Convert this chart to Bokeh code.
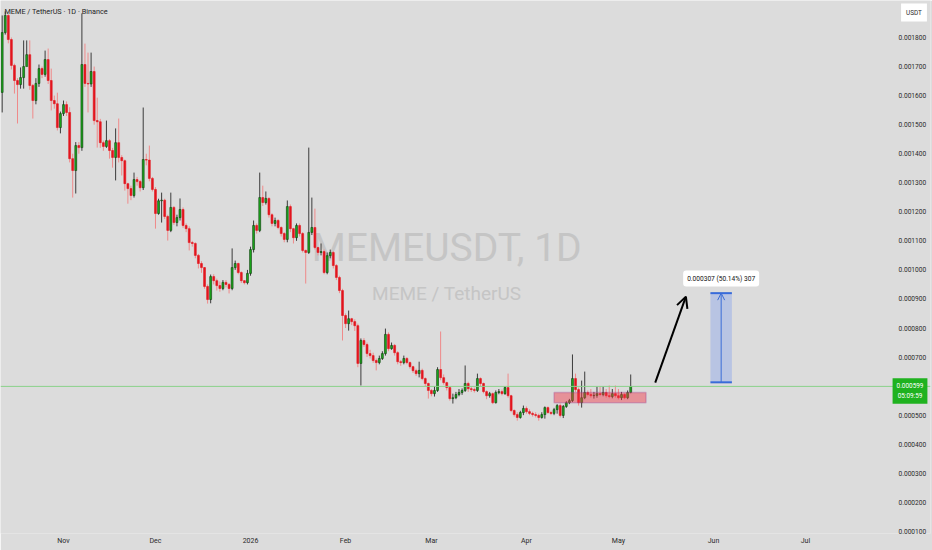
import pandas as pd
from bokeh.embed import file_html
from bokeh.models import (Arrow, BoxAnnotation, ColumnDataSource, CustomJSTickFormatter,
                          FixedTicker, Label, OpenHead, PrintfTickFormatter, Range1d, Span)
from bokeh.plotting import figure
from bokeh.resources import INLINE

# ---------------- data (prices in millionths of USDT) ----------------
first_day = "2025-10-12"
closes = [1817, 1876, 1793, 1704, 1652, 1638, 1662, 1700, 1741, 1635,
          1583, 1642, 1693, 1673, 1724, 1652, 1583, 1572, 1490, 1538,
          1569, 1542, 1383, 1342, 1428, 1421, 1707, 1642, 1640, 1683,
          1514, 1510, 1438, 1425, 1445, 1411, 1387, 1438, 1387, 1376,
          1297, 1280, 1256, 1311, 1304, 1283, 1380, 1378, 1315, 1277,
          1194, 1238, 1240, 1184, 1136, 1215, 1163, 1180, 1208, 1153,
          1142, 1094, 1091, 1050, 1022, 1008, 943, 898, 977, 963,
          946, 936, 957, 950, 936, 1008, 1022, 991, 963, 956,
          988, 1070, 1153, 1136, 1249, 1232, 1246, 1190, 1160, 1170,
          1146, 1125, 1105, 1218, 1142, 1111, 1153, 1125, 1067, 1060,
          1129, 1146, 1077, 1060, 1063, 991, 1049, 1060, 1015, 974,
          929, 843, 815, 832, 822, 808, 678, 757, 743, 712,
          705, 688, 681, 695, 712, 778, 729, 740, 715, 684,
          681, 695, 681, 667, 653, 643, 654, 626, 609, 585,
          574, 585, 657, 629, 612, 595, 557, 560, 571, 578,
          585, 609, 591, 588, 585, 626, 609, 581, 567, 574,
          543, 578, 581, 574, 595, 567, 516, 502, 492, 509,
          523, 512, 506, 502, 499, 492, 502, 526, 509, 506,
          519, 533, 499, 530, 543, 550, 626, 588, 543, 560,
          578, 571, 567, 568, 574, 571, 578, 567, 564, 574,
          567, 560, 571, 560, 578, 599]
opens = [1611, 1817, 1876, 1793, 1704, 1652, 1638, 1662, 1700, 1741,
         1635, 1583, 1642, 1693, 1673, 1724, 1652, 1583, 1572, 1490,
         1538, 1569, 1542, 1383, 1342, 1428, 1421, 1707, 1642, 1640,
         1683, 1514, 1510, 1438, 1425, 1445, 1411, 1387, 1438, 1387,
         1376, 1297, 1280, 1256, 1311, 1304, 1283, 1380, 1378, 1315,
         1277, 1194, 1238, 1240, 1184, 1136, 1215, 1163, 1180, 1208,
         1153, 1142, 1094, 1091, 1050, 1022, 1008, 943, 898, 977,
         963, 946, 936, 957, 950, 936, 1008, 1022, 991, 963,
         956, 988, 1070, 1153, 1136, 1249, 1232, 1246, 1190, 1160,
         1170, 1146, 1125, 1105, 1218, 1142, 1111, 1153, 1125, 1067,
         1060, 1129, 1146, 1077, 1060, 1063, 991, 1049, 1060, 1015,
         974, 929, 843, 815, 832, 822, 808, 678, 757, 743,
         712, 705, 688, 681, 695, 712, 778, 729, 740, 715,
         684, 681, 695, 681, 667, 653, 643, 654, 626, 609,
         585, 574, 585, 657, 629, 612, 595, 557, 560, 571,
         578, 585, 609, 591, 588, 585, 626, 609, 581, 567,
         574, 543, 578, 581, 574, 595, 567, 516, 502, 492,
         509, 523, 512, 506, 502, 499, 492, 502, 526, 509,
         506, 519, 533, 499, 530, 543, 550, 626, 588, 543,
         560, 578, 571, 567, 568, 574, 571, 578, 567, 564,
         574, 567, 560, 571, 560, 578]
highs = [1876, 1890, 1880, 1800, 1710, 1660, 1697, 1790, 1790, 1790,
         1640, 1660, 1707, 1700, 1755, 1762, 1693, 1600, 1610, 1545,
         1583, 1580, 1560, 1400, 1440, 1440, 1883, 1779, 1748, 1748,
         1700, 1593, 1520, 1445, 1514, 1450, 1420, 1487, 1521, 1395,
         1380, 1300, 1290, 1335, 1320, 1310, 1559, 1400, 1428, 1320,
         1285, 1245, 1266, 1245, 1190, 1266, 1220, 1190, 1246, 1215,
         1160, 1150, 1100, 1095, 1055, 1030, 1010, 950, 984, 985,
         970, 960, 965, 965, 955, 1074, 1032, 1025, 995, 965,
         1000, 1080, 1170, 1160, 1335, 1290, 1270, 1250, 1195, 1180,
         1175, 1150, 1130, 1239, 1225, 1145, 1160, 1160, 1130, 1070,
         1421, 1249, 1211, 1080, 1091, 1070, 1060, 1070, 1065, 1020,
         980, 935, 850, 860, 835, 830, 815, 764, 765, 750,
         725, 715, 695, 705, 720, 798, 785, 750, 745, 720,
         690, 705, 700, 685, 670, 660, 684, 660, 630, 612,
         590, 600, 665, 788, 640, 615, 600, 574, 580, 590,
         592, 671, 615, 598, 595, 643, 630, 612, 585, 580,
         578, 585, 590, 588, 600, 643, 570, 520, 510, 515,
         533, 530, 520, 512, 510, 505, 510, 530, 530, 515,
         525, 538, 540, 535, 548, 556, 709, 643, 595, 619,
         650, 585, 590, 580, 598, 598, 598, 590, 602, 590,
         602, 590, 580, 575, 585, 640]
lows = [1542, 1810, 1780, 1690, 1607, 1504, 1624, 1624, 1720, 1620,
        1521, 1570, 1630, 1660, 1665, 1640, 1549, 1555, 1480, 1470,
        1530, 1530, 1370, 1249, 1263, 1400, 1410, 1630, 1542, 1630,
        1500, 1421, 1420, 1410, 1420, 1383, 1352, 1308, 1370, 1325,
        1273, 1228, 1240, 1249, 1290, 1270, 1275, 1360, 1305, 1270,
        1142, 1190, 1163, 1175, 1101, 1130, 1155, 1150, 1170, 1145,
        1130, 1067, 1080, 1040, 1005, 990, 935, 884, 885, 950,
        929, 925, 930, 940, 919, 930, 1000, 985, 955, 950,
        950, 980, 1060, 1125, 1130, 1220, 1225, 1180, 1150, 1150,
        1140, 1115, 1095, 1095, 1130, 1091, 1100, 1115, 1060, 953,
        1055, 1120, 1070, 1050, 1050, 985, 985, 1040, 1005, 965,
        920, 757, 800, 791, 810, 790, 665, 602, 735, 700,
        695, 680, 654, 675, 690, 705, 720, 725, 705, 675,
        670, 675, 675, 660, 645, 635, 630, 620, 600, 557,
        565, 564, 580, 620, 605, 585, 550, 540, 555, 565,
        570, 580, 580, 580, 578, 580, 600, 575, 555, 560,
        538, 540, 572, 568, 570, 560, 510, 495, 481, 488,
        500, 505, 500, 495, 492, 481, 488, 488, 505, 500,
        500, 505, 492, 490, 525, 538, 545, 580, 533, 526,
        555, 565, 560, 557, 560, 565, 565, 560, 558, 558,
        560, 554, 552, 555, 555, 575]

price_ticks = [100, 200, 300, 400, 500, 600, 700, 800, 900, 1000,
               1100, 1200, 1300, 1400, 1500, 1600, 1700, 1800]
month_ticks = ["2025-11-01", "2025-12-01", "2026-01-01", "2026-02-01", "2026-03-01",
               "2026-04-01", "2026-05-01", "2026-06-01", "2026-07-01"]
month_labels = ["Nov", "Dec", "2026", "Feb", "Mar", "Apr", "May", "Jun", "Jul"]

last_price = 599
last_price_text = "0.000599\n05:09:59"
zone_start, zone_end, zone_low, zone_high = "2026-04-10", "2026-05-10", 543, 578
arrow_from = ("2026-05-13", 612)
arrow_to = ("2026-05-23", 908)
target_start, target_end, target_low, target_high = "2026-05-31", "2026-06-07", 613, 920
target_text = "0.000307 (50.14%) 307"

U = 1e-6
FONT = "Roboto"
BG = "#dcdcdc"
W, H = 932, 550
BORDER_R, BORDER_B = 2, 17
FRAME_W, FRAME_H = W - BORDER_R, H - BORDER_B
PX_PER_DAY = 3.066


def ms(d):
    return pd.Timestamp(d).value / 1e6


dates = pd.date_range(first_day, periods=len(closes), freq="D")
up = [c >= o for o, c in zip(opens, closes)]
src = ColumnDataSource(dict(
    x=dates,
    top=[max(o, c) * U for o, c in zip(opens, closes)],
    bottom=[min(o, c) * U for o, c in zip(opens, closes)],
    high=[h * U for h in highs],
    low=[l * U for l in lows],
    body=["#1ba91b" if u else "#e3151e" for u in up],
    edge=["#0d3d0d" if u else "#e3151e" for u in up],
    wick=["#3c3c3c" if u else "#ef8a8a" for u in up],
))

day = 86400000.0
nov1 = ms("2025-11-01")
x_left_days = -63 / PX_PER_DAY
x_right_days = x_left_days + FRAME_W / PX_PER_DAY
p = figure(width=W, height=H, x_axis_type="datetime", y_axis_location="right",
           x_range=Range1d(nov1 + x_left_days * day, nov1 + x_right_days * day),
           y_range=Range1d(92.6 * U, 1927.4 * U),
           output_backend="svg", toolbar_location=None,
           min_border_left=0, min_border_top=0, min_border_right=BORDER_R,
           min_border_bottom=BORDER_B)
p.background_fill_color = BG
p.border_fill_color = BG
p.outline_line_color = None
p.grid.visible = False

# axes (the price scale is drawn back over the right edge of the chart pane)
ya = p.yaxis[0]
ya.ticker = FixedTicker(ticks=[t * U for t in price_ticks])
ya.formatter = PrintfTickFormatter(format="%.6f")
xa = p.xaxis[0]
tick_ms = [ms(d) for d in month_ticks]
xa.ticker = FixedTicker(ticks=tick_ms)
xa.formatter = CustomJSTickFormatter(args=dict(month_ms=tick_ms, month_names=month_labels),
                                     code="const i = month_ms.indexOf(tick); return i >= 0 ? month_names[i] : '';")
for ax in (xa, ya):
    ax.axis_line_color = None
    ax.major_tick_line_color = None
    ax.minor_tick_line_color = None
    ax.major_tick_out = 0
    ax.major_tick_in = 0
    ax.major_label_text_font = FONT
    ax.major_label_text_color = "#2a2a2a"
ya.major_label_text_font_size = "6.6px"
ya.major_label_standoff = 898 - FRAME_W
xa.major_label_text_font_size = "7px"
xa.major_label_standoff = 3

# watermark
p.add_layout(Label(x=ms("2026-03-06"), y=1074 * U, text="MEMEUSDT, 1D", text_align="center",
                   text_baseline="middle", text_font=FONT, text_font_size="39px",
                   text_color="#c5c5c5", level="underlay"))
p.add_layout(Label(x=ms("2026-03-06"), y=919 * U, text="MEME / TetherUS", text_align="center",
                   text_baseline="middle", text_font=FONT, text_font_size="19px",
                   text_color="#c5c5c5", level="underlay"))

# candles
p.segment(x0="x", y0="low", x1="x", y1="high", source=src, line_color="wick", line_width=1)
p.vbar(x="x", width=0.62 * day, top="top", bottom="bottom", source=src,
       fill_color="body", line_color="edge", line_width=0.6)

# current price line
p.add_layout(Span(location=last_price * U, dimension="width", line_color="#8ad28a", line_width=1))

# support zone
p.add_layout(BoxAnnotation(left=ms(zone_start), right=ms(zone_end), bottom=zone_low * U,
                           top=zone_high * U, fill_color="#f23645", fill_alpha=0.45,
                           line_color="#9b3a8f", line_width=1.5))

# projection arrow
p.add_layout(Arrow(end=OpenHead(size=11, line_width=2, line_color="black"),
                   x_start=ms(arrow_from[0]), y_start=arrow_from[1] * U,
                   x_end=ms(arrow_to[0]), y_end=arrow_to[1] * U,
                   line_color="black", line_width=2))

# measurement box
p.add_layout(BoxAnnotation(left=ms(target_start), right=ms(target_end), bottom=target_low * U,
                           top=target_high * U, fill_color="#2962ff", fill_alpha=0.2,
                           line_color=None))
p.segment(x0=[ms(target_start)] * 2, x1=[ms(target_end)] * 2,
          y0=[target_low * U, target_high * U], y1=[target_low * U, target_high * U],
          line_color="#3a6cd6", line_width=2)
mid = (ms(target_start) + ms(target_end)) / 2
p.add_layout(Arrow(end=OpenHead(size=7, line_width=1, line_color="#3a6cd6"),
                   x_start=mid, y_start=target_low * U, x_end=mid, y_end=target_high * U,
                   line_color="#3a6cd6", line_width=1))
p.add_layout(Label(x=mid, y=970 * U, text=target_text, text_align="center", text_baseline="middle",
                   text_font=FONT, text_font_size="6.6px", text_color="#111111",
                   background_fill_color="white", padding=4, border_radius=3))

# title
p.add_layout(Label(x=nov1 + (x_left_days + 4 / PX_PER_DAY) * day, y=1889 * U,
                   text="MEME / TetherUS · 1D · Binance",
                   text_align="left", text_baseline="middle", text_font=FONT,
                   text_font_size="7.3px", text_color="#1e1e1e"))

# price scale tags (screen units from the frame's bottom-left corner)
p.add_layout(Label(x=909.5, y=FRAME_H - 390.5, x_units="screen", y_units="screen",
                   text=last_price_text, text_align="center", text_baseline="middle",
                   text_font=FONT, text_font_size="6.4px", text_color="white",
                   background_fill_color="#1fb21f", padding=4))
p.add_layout(Label(x=913.5, y=FRAME_H - 12, x_units="screen", y_units="screen", text="USDT",
                   text_align="center", text_baseline="middle", text_font=FONT,
                   text_font_size="6.4px", text_color="#2a2a2a",
                   background_fill_color="white", padding=5))

html = file_html(p, INLINE)
html = html.replace("<body>", '<body style="margin:0;background:%s">' % BG, 1)
open("out.html", "w").write(html)
